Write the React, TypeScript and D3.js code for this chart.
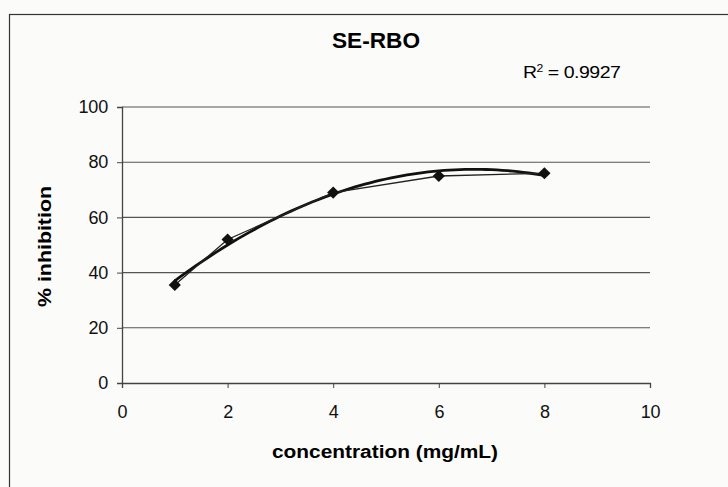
import { useEffect, useRef } from "react";
import * as d3 from "d3";

const WIDTH = 728;
const HEIGHT = 487;
const MARGIN = { top: 107, right: 78, bottom: 104, left: 122 };

// data
const concentration = [1, 2, 4, 6, 8];
const inhibition = [35.5, 52, 69, 75, 76];
const xTicks = [0, 2, 4, 6, 8, 10];
const yTicks = [0, 20, 40, 60, 80, 100];
const TITLE = "SE-RBO";
const R2_LABEL = "0.9927";

// 2nd order polynomial trendline (least squares)
function quadFit(xs: number[], ys: number[]) {
  const n = xs.length;
  let s1 = 0, s2 = 0, s3 = 0, s4 = 0, t0 = 0, t1 = 0, t2 = 0;
  xs.forEach((x, i) => {
    const y = ys[i];
    s1 += x; s2 += x * x; s3 += x * x * x; s4 += x * x * x * x;
    t0 += y; t1 += x * y; t2 += x * x * y;
  });
  const M = [
    [n, s1, s2, t0],
    [s1, s2, s3, t1],
    [s2, s3, s4, t2],
  ];
  for (let i = 0; i < 3; i++) {
    for (let k = i + 1; k < 3; k++) {
      const f = M[k][i] / M[i][i];
      for (let j = i; j < 4; j++) M[k][j] -= f * M[i][j];
    }
  }
  const c = [0, 0, 0];
  for (let i = 2; i >= 0; i--) {
    let s = M[i][3];
    for (let j = i + 1; j < 3; j++) s -= M[i][j] * c[j];
    c[i] = s / M[i][i];
  }
  return (x: number) => c[0] + c[1] * x + c[2] * x * x;
}

const App = () => {
  const ref = useRef<SVGGElement>(null);
  const boundsWidth = WIDTH - MARGIN.left - MARGIN.right;
  const boundsHeight = HEIGHT - MARGIN.top - MARGIN.bottom;

  const xScale = d3.scaleLinear().domain([0, 10]).range([0, boundsWidth]);
  const yScale = d3.scaleLinear().domain([0, 100]).range([boundsHeight, 0]);

  useEffect(() => {
    const g = d3.select(ref.current);
    g.selectAll("*").remove();

    // gridlines
    g.append("g")
      .selectAll("line")
      .data(yTicks.filter((d) => d > 0))
      .join("line")
      .attr("x1", 0)
      .attr("x2", boundsWidth)
      .attr("y1", (d) => yScale(d))
      .attr("y2", (d) => yScale(d))
      .attr("stroke", "#555")
      .attr("stroke-width", 1.1);

    const yAxis = g
      .append("g")
      .call(d3.axisLeft(yScale).tickValues(yTicks).tickSize(5).tickPadding(9).tickFormat(d3.format("d")));
    const xAxis = g
      .append("g")
      .attr("transform", `translate(0,${boundsHeight})`)
      .call(d3.axisBottom(xScale).tickValues(xTicks).tickSize(5).tickPadding(17).tickFormat(d3.format("d")));

    [yAxis, xAxis].forEach((ax) => {
      ax.select(".domain").attr("stroke", "#444").attr("stroke-width", 1.3);
      ax.selectAll(".tick line").attr("stroke", "#444");
      ax.selectAll("text")
        .attr("font-family", "Liberation Sans, Arial, sans-serif")
        .attr("font-size", 18)
        .attr("letter-spacing", -0.2)
        .attr("fill", "#111");
    });

    // trendline
    const fit = quadFit(concentration, inhibition);
    const xs = d3.range(1, 8.001, 0.1);
    g.append("path")
      .datum(xs)
      .attr("fill", "none")
      .attr("stroke", "#111")
      .attr("stroke-width", 2.8)
      .attr(
        "d",
        d3.line<number>().x((d) => xScale(d)).y((d) => yScale(fit(d)))
      );

    // data line
    g.append("path")
      .datum(concentration)
      .attr("fill", "none")
      .attr("stroke", "#222")
      .attr("stroke-width", 1.3)
      .attr(
        "d",
        d3.line<number>().x((d) => xScale(d)).y((d, i) => yScale(inhibition[i]))
      );

    // diamond markers
    g.append("g")
      .selectAll("path")
      .data(concentration)
      .join("path")
      .attr("transform", (d, i) => `translate(${xScale(d)},${yScale(inhibition[i])})`)
      .attr("d", d3.symbol(d3.symbolDiamond2, 95)())
      .attr("fill", "#111");
  }, []);

  const font = "Liberation Sans, Arial, sans-serif";
  return (
    <svg
      width={WIDTH}
      height={HEIGHT}
      style={{ position: "absolute", left: 0, top: 0, background: "#fbfbfa" }}
    >
      <rect x={9.5} y={14.5} width={730} height={480} fill="none" stroke="#333" strokeWidth={1.2} />
      <text
        x={332}
        y={48}
        fontFamily={font}
        fontWeight="bold"
        fontSize={22}
        textLength={88}
        lengthAdjust="spacingAndGlyphs"
      >
        {TITLE}
      </text>
      <g transform="translate(523,78) scale(1.22,1)">
        <text fontFamily={font} fontSize={16} letterSpacing={-0.4}>
          R<tspan dy={-6} fontSize={10}>2</tspan>
          <tspan dy={6}> = {R2_LABEL}</tspan>
        </text>
      </g>
      <text
        transform={`translate(51,${247 + 60}) rotate(-90)`}
        fontFamily={font}
        fontWeight="bold"
        fontSize={18}
        textLength={121}
        lengthAdjust="spacingAndGlyphs"
      >
        % inhibition
      </text>
      <text
        x={272}
        y={458}
        fontFamily={font}
        fontWeight="bold"
        fontSize={18}
        textLength={226}
        lengthAdjust="spacingAndGlyphs"
      >
        concentration (mg/mL)
      </text>
      <g ref={ref} transform={`translate(${MARGIN.left},${MARGIN.top})`} />
    </svg>
  );
};

export default App;
